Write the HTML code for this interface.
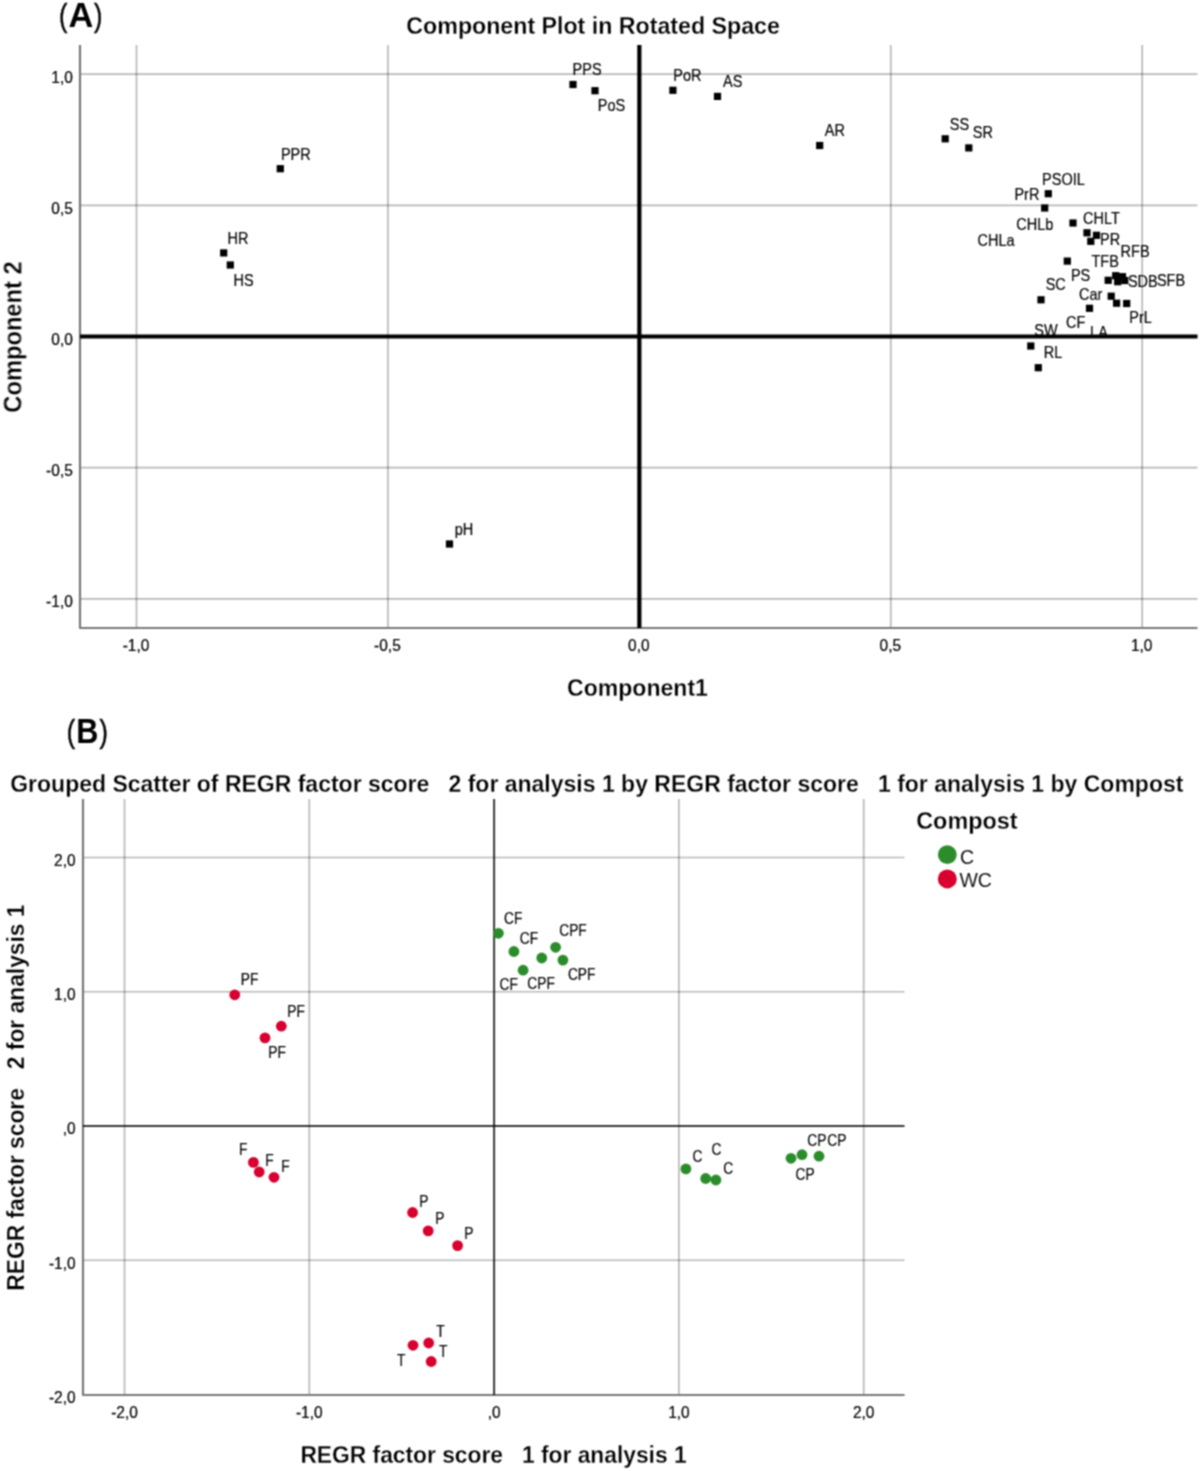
<!DOCTYPE html>
<html><head><meta charset="utf-8"><title>Component Plot</title>
<style>
html,body{margin:0;padding:0;background:#fff;}
body{width:1200px;height:1471px;overflow:hidden;}
svg{display:block;font-family:"Liberation Sans", sans-serif;}
</style></head>
<body>
<svg width="1200" height="1471" viewBox="0 0 1200 1471">
<defs><filter id="bl" x="0" y="0" width="1" height="1" color-interpolation-filters="sRGB"><feConvolveMatrix order="3" kernelMatrix="1 2 1 2 4 2 1 2 1" divisor="16" edgeMode="duplicate"/></filter></defs>
<g filter="url(#bl)">
<rect width="1200" height="1471" fill="#fff"/>
<line x1="136.50" y1="45.00" x2="136.50" y2="628.00" stroke="#000" stroke-width="1.7" stroke-opacity="0.28"/>
<line x1="387.93" y1="45.00" x2="387.93" y2="628.00" stroke="#000" stroke-width="1.7" stroke-opacity="0.28"/>
<line x1="890.78" y1="45.00" x2="890.78" y2="628.00" stroke="#000" stroke-width="1.7" stroke-opacity="0.28"/>
<line x1="1142.20" y1="45.00" x2="1142.20" y2="628.00" stroke="#000" stroke-width="1.7" stroke-opacity="0.28"/>
<line x1="80.00" y1="74.20" x2="1197.50" y2="74.20" stroke="#000" stroke-width="1.7" stroke-opacity="0.28"/>
<line x1="80.00" y1="205.35" x2="1197.50" y2="205.35" stroke="#000" stroke-width="1.7" stroke-opacity="0.28"/>
<line x1="80.00" y1="467.65" x2="1197.50" y2="467.65" stroke="#000" stroke-width="1.7" stroke-opacity="0.28"/>
<line x1="80.00" y1="598.80" x2="1197.50" y2="598.80" stroke="#000" stroke-width="1.7" stroke-opacity="0.28"/>
<path d="M80,45 L80,628 L1197.5,628" fill="none" stroke="#787878" stroke-width="2.2" stroke-linejoin="round"/>
<line x1="639.35" y1="45.00" x2="639.35" y2="628.00" stroke="#000" stroke-width="4.2"/>
<line x1="80.00" y1="336.50" x2="1197.50" y2="336.50" stroke="#000" stroke-width="4.2"/>
<text transform="translate(72.80,82.60) scale(1.0,1.1)" font-size="15.5" text-anchor="end" fill="#000" stroke="#000" stroke-width="0.2">1,0</text>
<text transform="translate(72.80,213.75) scale(1.0,1.1)" font-size="15.5" text-anchor="end" fill="#000" stroke="#000" stroke-width="0.2">0,5</text>
<text transform="translate(72.80,344.90) scale(1.0,1.1)" font-size="15.5" text-anchor="end" fill="#000" stroke="#000" stroke-width="0.2">0,0</text>
<text transform="translate(72.80,476.05) scale(1.0,1.1)" font-size="15.5" text-anchor="end" fill="#000" stroke="#000" stroke-width="0.2">-0,5</text>
<text transform="translate(72.80,607.20) scale(1.0,1.1)" font-size="15.5" text-anchor="end" fill="#000" stroke="#000" stroke-width="0.2">-1,0</text>
<text transform="translate(136.00,651.00) scale(1.0,1.1)" font-size="15.5" text-anchor="middle" fill="#000" stroke="#000" stroke-width="0.2">-1,0</text>
<text transform="translate(387.43,651.00) scale(1.0,1.1)" font-size="15.5" text-anchor="middle" fill="#000" stroke="#000" stroke-width="0.2">-0,5</text>
<text transform="translate(638.85,651.00) scale(1.0,1.1)" font-size="15.5" text-anchor="middle" fill="#000" stroke="#000" stroke-width="0.2">0,0</text>
<text transform="translate(890.28,651.00) scale(1.0,1.1)" font-size="15.5" text-anchor="middle" fill="#000" stroke="#000" stroke-width="0.2">0,5</text>
<text transform="translate(1141.70,651.00) scale(1.0,1.1)" font-size="15.5" text-anchor="middle" fill="#000" stroke="#000" stroke-width="0.2">1,0</text>
<rect x="569.4" y="80.9" width="7.2" height="7.2" fill="#000"/>
<rect x="591.4" y="87.1" width="7.2" height="7.2" fill="#000"/>
<rect x="669.3" y="86.7" width="7.2" height="7.2" fill="#000"/>
<rect x="713.9" y="92.8" width="7.2" height="7.2" fill="#000"/>
<rect x="816.1" y="141.9" width="7.2" height="7.2" fill="#000"/>
<rect x="941.6" y="135.2" width="7.2" height="7.2" fill="#000"/>
<rect x="965.2" y="144.3" width="7.2" height="7.2" fill="#000"/>
<rect x="276.7" y="165.1" width="7.2" height="7.2" fill="#000"/>
<rect x="220.1" y="249.3" width="7.2" height="7.2" fill="#000"/>
<rect x="226.7" y="261.4" width="7.2" height="7.2" fill="#000"/>
<rect x="445.9" y="540.4" width="7.2" height="7.2" fill="#000"/>
<rect x="1044.7" y="190.1" width="7.2" height="7.2" fill="#000"/>
<rect x="1041.1" y="204.4" width="7.2" height="7.2" fill="#000"/>
<rect x="1069.4" y="219.4" width="7.2" height="7.2" fill="#000"/>
<rect x="1083.4" y="229.2" width="7.2" height="7.2" fill="#000"/>
<rect x="1092.9" y="231.7" width="7.2" height="7.2" fill="#000"/>
<rect x="1087.2" y="237.7" width="7.2" height="7.2" fill="#000"/>
<rect x="1063.7" y="257.5" width="7.2" height="7.2" fill="#000"/>
<rect x="1037.4" y="296.2" width="7.2" height="7.2" fill="#000"/>
<rect x="1085.9" y="304.7" width="7.2" height="7.2" fill="#000"/>
<rect x="1104.6" y="276.7" width="7.2" height="7.2" fill="#000"/>
<rect x="1112.1" y="272.1" width="7.2" height="7.2" fill="#000"/>
<rect x="1118.9" y="273.1" width="7.2" height="7.2" fill="#000"/>
<rect x="1114.1" y="278.1" width="7.2" height="7.2" fill="#000"/>
<rect x="1121.2" y="276.9" width="7.2" height="7.2" fill="#000"/>
<rect x="1107.6" y="292.6" width="7.2" height="7.2" fill="#000"/>
<rect x="1113.0" y="299.6" width="7.2" height="7.2" fill="#000"/>
<rect x="1123.1" y="299.9" width="7.2" height="7.2" fill="#000"/>
<rect x="1027.2" y="342.4" width="7.2" height="7.2" fill="#000"/>
<rect x="1034.7" y="364.1" width="7.2" height="7.2" fill="#000"/>
<text transform="translate(572.61,75.25) scale(1.0,1.1)" font-size="14.5" fill="#000" stroke="#000" stroke-width="0.15">PPS</text>
<text transform="translate(597.81,111.00) scale(1.0,1.1)" font-size="14.5" fill="#000" stroke="#000" stroke-width="0.15">PoS</text>
<text transform="translate(673.31,80.75) scale(1.0,1.1)" font-size="14.5" fill="#000" stroke="#000" stroke-width="0.15">PoR</text>
<text transform="translate(723.07,86.80) scale(1.0,1.1)" font-size="14.5" fill="#000" stroke="#000" stroke-width="0.15">AS</text>
<text transform="translate(824.77,136.40) scale(1.0,1.1)" font-size="14.5" fill="#000" stroke="#000" stroke-width="0.15">AR</text>
<text transform="translate(949.84,129.70) scale(1.0,1.1)" font-size="14.5" fill="#000" stroke="#000" stroke-width="0.15">SS</text>
<text transform="translate(972.84,138.30) scale(1.0,1.1)" font-size="14.5" fill="#000" stroke="#000" stroke-width="0.15">SR</text>
<text transform="translate(280.91,160.00) scale(1.0,1.1)" font-size="14.5" fill="#000" stroke="#000" stroke-width="0.15">PPR</text>
<text transform="translate(227.41,243.80) scale(1.0,1.1)" font-size="14.5" fill="#000" stroke="#000" stroke-width="0.15">HR</text>
<text transform="translate(233.41,286.20) scale(1.0,1.1)" font-size="14.5" fill="#000" stroke="#000" stroke-width="0.15">HS</text>
<text transform="translate(454.67,535.20) scale(1.0,1.1)" font-size="14.5" fill="#000" stroke="#000" stroke-width="0.15">pH</text>
<text transform="translate(1042.11,184.50) scale(1.0,1.1)" font-size="14.5" fill="#000" stroke="#000" stroke-width="0.15">PSOIL</text>
<text transform="translate(1014.41,200.20) scale(1.0,1.1)" font-size="14.5" fill="#000" stroke="#000" stroke-width="0.15">PrR</text>
<text transform="translate(1016.26,229.50) scale(1.0,1.1)" font-size="14.5" fill="#000" stroke="#000" stroke-width="0.15">CHLb</text>
<text transform="translate(1083.06,223.50) scale(1.0,1.1)" font-size="14.5" fill="#000" stroke="#000" stroke-width="0.15">CHLT</text>
<text transform="translate(977.56,246.00) scale(1.0,1.1)" font-size="14.5" fill="#000" stroke="#000" stroke-width="0.15">CHLa</text>
<text transform="translate(1100.11,245.00) scale(1.0,1.1)" font-size="14.5" fill="#000" stroke="#000" stroke-width="0.15">PR</text>
<text transform="translate(1120.61,256.50) scale(1.0,1.1)" font-size="14.5" fill="#000" stroke="#000" stroke-width="0.15">RFB</text>
<text transform="translate(1091.47,266.80) scale(1.0,1.1)" font-size="14.5" fill="#000" stroke="#000" stroke-width="0.15">TFB</text>
<text transform="translate(1070.91,281.30) scale(1.0,1.1)" font-size="14.5" fill="#000" stroke="#000" stroke-width="0.15">PS</text>
<text transform="translate(1045.64,290.00) scale(1.0,1.1)" font-size="14.5" fill="#000" stroke="#000" stroke-width="0.15">SC</text>
<text transform="translate(1079.06,300.20) scale(1.0,1.1)" font-size="14.5" fill="#000" stroke="#000" stroke-width="0.15">Car</text>
<text transform="translate(1127.94,287.20) scale(1.0,1.1)" font-size="14.5" fill="#000" stroke="#000" stroke-width="0.15">SDB</text>
<text transform="translate(1156.89,286.00) scale(1.0,1.1)" font-size="14.5" fill="#000" stroke="#000" stroke-width="0.15">SFB</text>
<text transform="translate(1129.36,323.00) scale(1.0,1.1)" font-size="14.5" fill="#000" stroke="#000" stroke-width="0.15">PrL</text>
<text transform="translate(1065.96,327.80) scale(1.0,1.1)" font-size="14.5" fill="#000" stroke="#000" stroke-width="0.15">CF</text>
<text transform="translate(1034.24,336.30) scale(1.0,1.1)" font-size="14.5" fill="#000" stroke="#000" stroke-width="0.15">SW</text>
<text transform="translate(1090.11,337.70) scale(1.0,1.1)" font-size="14.5" fill="#000" stroke="#000" stroke-width="0.15">LA</text>
<text transform="translate(1043.71,358.40) scale(1.0,1.1)" font-size="14.5" fill="#000" stroke="#000" stroke-width="0.15">RL</text>
<text transform="translate(593.10,33.60) scale(1.0,1.05)" font-size="23.2" font-weight="bold" text-anchor="middle" fill="#000" stroke="#fff" stroke-width="0.25">Component Plot in Rotated Space</text>
<text transform="translate(637.50,695.90) scale(1.0,1.05)" font-size="23.05" font-weight="bold" text-anchor="middle" fill="#000" stroke="#fff" stroke-width="0.25">Component1</text>
<text transform="translate(21.60,337.00) rotate(-90) scale(1.0,1.05)" font-size="23.7" font-weight="bold" text-anchor="middle" fill="#000" stroke="#fff" stroke-width="0.25">Component 2</text>
<line x1="124.50" y1="799.00" x2="124.50" y2="1395.00" stroke="#000" stroke-width="1.7" stroke-opacity="0.28"/>
<line x1="309.30" y1="799.00" x2="309.30" y2="1395.00" stroke="#000" stroke-width="1.7" stroke-opacity="0.28"/>
<line x1="678.90" y1="799.00" x2="678.90" y2="1395.00" stroke="#000" stroke-width="1.7" stroke-opacity="0.28"/>
<line x1="863.70" y1="799.00" x2="863.70" y2="1395.00" stroke="#000" stroke-width="1.7" stroke-opacity="0.28"/>
<line x1="83.00" y1="857.50" x2="904.50" y2="857.50" stroke="#000" stroke-width="1.7" stroke-opacity="0.28"/>
<line x1="83.00" y1="991.75" x2="904.50" y2="991.75" stroke="#000" stroke-width="1.7" stroke-opacity="0.28"/>
<line x1="83.00" y1="1260.25" x2="904.50" y2="1260.25" stroke="#000" stroke-width="1.7" stroke-opacity="0.28"/>
<path d="M83,799 L83,1395 L904.5,1395" fill="none" stroke="#787878" stroke-width="2.2" stroke-linejoin="round"/>
<line x1="494.10" y1="799.00" x2="494.10" y2="1395.00" stroke="#000" stroke-width="2" stroke-opacity="0.78"/>
<line x1="83.00" y1="1126.00" x2="904.50" y2="1126.00" stroke="#000" stroke-width="2" stroke-opacity="0.78"/>
<text transform="translate(75.60,865.90) scale(1.0,1.1)" font-size="15.5" text-anchor="end" fill="#000" stroke="#000" stroke-width="0.2">2,0</text>
<text transform="translate(75.60,1000.15) scale(1.0,1.1)" font-size="15.5" text-anchor="end" fill="#000" stroke="#000" stroke-width="0.2">1,0</text>
<text transform="translate(75.60,1134.40) scale(1.0,1.1)" font-size="15.5" text-anchor="end" fill="#000" stroke="#000" stroke-width="0.2">,0</text>
<text transform="translate(75.60,1268.65) scale(1.0,1.1)" font-size="15.5" text-anchor="end" fill="#000" stroke="#000" stroke-width="0.2">-1,0</text>
<text transform="translate(75.60,1402.90) scale(1.0,1.1)" font-size="15.5" text-anchor="end" fill="#000" stroke="#000" stroke-width="0.2">-2,0</text>
<text transform="translate(124.50,1418.00) scale(1.0,1.1)" font-size="15.5" text-anchor="middle" fill="#000" stroke="#000" stroke-width="0.2">-2,0</text>
<text transform="translate(309.30,1418.00) scale(1.0,1.1)" font-size="15.5" text-anchor="middle" fill="#000" stroke="#000" stroke-width="0.2">-1,0</text>
<text transform="translate(494.10,1418.00) scale(1.0,1.1)" font-size="15.5" text-anchor="middle" fill="#000" stroke="#000" stroke-width="0.2">,0</text>
<text transform="translate(678.90,1418.00) scale(1.0,1.1)" font-size="15.5" text-anchor="middle" fill="#000" stroke="#000" stroke-width="0.2">1,0</text>
<text transform="translate(863.70,1418.00) scale(1.0,1.1)" font-size="15.5" text-anchor="middle" fill="#000" stroke="#000" stroke-width="0.2">2,0</text>
<circle cx="498.4" cy="933.3" r="5.4" fill="#2b8c2b"/>
<circle cx="513.9" cy="951.5" r="5.4" fill="#2b8c2b"/>
<circle cx="555.6" cy="947.3" r="5.4" fill="#2b8c2b"/>
<circle cx="541.75" cy="958" r="5.4" fill="#2b8c2b"/>
<circle cx="562.9" cy="960.1" r="5.4" fill="#2b8c2b"/>
<circle cx="523.1" cy="970.2" r="5.4" fill="#2b8c2b"/>
<circle cx="685.9" cy="1168.9" r="5.4" fill="#2b8c2b"/>
<circle cx="705.7" cy="1178.5" r="5.4" fill="#2b8c2b"/>
<circle cx="715.9" cy="1180" r="5.4" fill="#2b8c2b"/>
<circle cx="791" cy="1158.3" r="5.4" fill="#2b8c2b"/>
<circle cx="802" cy="1154.7" r="5.4" fill="#2b8c2b"/>
<circle cx="819" cy="1156.2" r="5.4" fill="#2b8c2b"/>
<circle cx="234.75" cy="994.8" r="5.4" fill="#d7002f"/>
<circle cx="281.3" cy="1026.2" r="5.4" fill="#d7002f"/>
<circle cx="265" cy="1037.9" r="5.4" fill="#d7002f"/>
<circle cx="253.4" cy="1162.4" r="5.4" fill="#d7002f"/>
<circle cx="259.2" cy="1172" r="5.4" fill="#d7002f"/>
<circle cx="274" cy="1177.3" r="5.4" fill="#d7002f"/>
<circle cx="412.6" cy="1212.5" r="5.4" fill="#d7002f"/>
<circle cx="428.2" cy="1230.9" r="5.4" fill="#d7002f"/>
<circle cx="457.6" cy="1245.6" r="5.4" fill="#d7002f"/>
<circle cx="413" cy="1345.3" r="5.4" fill="#d7002f"/>
<circle cx="428.7" cy="1343" r="5.4" fill="#d7002f"/>
<circle cx="431.2" cy="1361.5" r="5.4" fill="#d7002f"/>
<text transform="translate(504.00,923.90) scale(1.0,1.22)" font-size="13.8" fill="#000" stroke="#000" stroke-width="0.15">CF</text>
<text transform="translate(519.70,943.90) scale(1.0,1.22)" font-size="13.8" fill="#000" stroke="#000" stroke-width="0.15">CF</text>
<text transform="translate(559.20,936.35) scale(1.0,1.22)" font-size="13.8" fill="#000" stroke="#000" stroke-width="0.15">CPF</text>
<text transform="translate(567.90,980.10) scale(1.0,1.22)" font-size="13.8" fill="#000" stroke="#000" stroke-width="0.15">CPF</text>
<text transform="translate(499.60,989.90) scale(1.0,1.22)" font-size="13.8" fill="#000" stroke="#000" stroke-width="0.15">CF</text>
<text transform="translate(527.30,989.00) scale(1.0,1.22)" font-size="13.8" fill="#000" stroke="#000" stroke-width="0.15">CPF</text>
<text transform="translate(240.77,984.60) scale(1.0,1.22)" font-size="13.8" fill="#000" stroke="#000" stroke-width="0.15">PF</text>
<text transform="translate(287.27,1016.50) scale(1.0,1.22)" font-size="13.8" fill="#000" stroke="#000" stroke-width="0.15">PF</text>
<text transform="translate(268.27,1058.20) scale(1.0,1.22)" font-size="13.8" fill="#000" stroke="#000" stroke-width="0.15">PF</text>
<text transform="translate(239.07,1154.50) scale(1.0,1.22)" font-size="13.8" fill="#000" stroke="#000" stroke-width="0.15">F</text>
<text transform="translate(265.27,1166.00) scale(1.0,1.22)" font-size="13.8" fill="#000" stroke="#000" stroke-width="0.15">F</text>
<text transform="translate(281.27,1171.90) scale(1.0,1.22)" font-size="13.8" fill="#000" stroke="#000" stroke-width="0.15">F</text>
<text transform="translate(419.17,1206.60) scale(1.0,1.22)" font-size="13.8" fill="#000" stroke="#000" stroke-width="0.15">P</text>
<text transform="translate(435.27,1224.20) scale(1.0,1.22)" font-size="13.8" fill="#000" stroke="#000" stroke-width="0.15">P</text>
<text transform="translate(464.27,1238.90) scale(1.0,1.22)" font-size="13.8" fill="#000" stroke="#000" stroke-width="0.15">P</text>
<text transform="translate(436.29,1336.90) scale(1.0,1.22)" font-size="13.8" fill="#000" stroke="#000" stroke-width="0.15">T</text>
<text transform="translate(439.09,1357.30) scale(1.0,1.22)" font-size="13.8" fill="#000" stroke="#000" stroke-width="0.15">T</text>
<text transform="translate(396.99,1365.90) scale(1.0,1.22)" font-size="13.8" fill="#000" stroke="#000" stroke-width="0.15">T</text>
<text transform="translate(692.60,1161.90) scale(1.0,1.22)" font-size="13.8" fill="#000" stroke="#000" stroke-width="0.15">C</text>
<text transform="translate(711.50,1154.90) scale(1.0,1.22)" font-size="13.8" fill="#000" stroke="#000" stroke-width="0.15">C</text>
<text transform="translate(723.30,1173.60) scale(1.0,1.22)" font-size="13.8" fill="#000" stroke="#000" stroke-width="0.15">C</text>
<text transform="translate(807.30,1145.90) scale(1.0,1.22)" font-size="13.8" fill="#000" stroke="#000" stroke-width="0.15">CP</text>
<text transform="translate(827.30,1145.90) scale(1.0,1.22)" font-size="13.8" fill="#000" stroke="#000" stroke-width="0.15">CP</text>
<text transform="translate(795.60,1179.60) scale(1.0,1.22)" font-size="13.8" fill="#000" stroke="#000" stroke-width="0.15">CP</text>
<text transform="translate(596.80,791.60) scale(1.0,1.05)" font-size="23.0" font-weight="bold" text-anchor="middle" xml:space="preserve" fill="#000" stroke="#fff" stroke-width="0.25">Grouped Scatter of REGR factor score   2 for analysis 1 by REGR factor score   1 for analysis 1 by Compost</text>
<text transform="translate(493.50,1463.00) scale(1.0,1.05)" font-size="22.8" font-weight="bold" text-anchor="middle" xml:space="preserve" fill="#000" stroke="#fff" stroke-width="0.25">REGR factor score   1 for analysis 1</text>
<text transform="translate(24.20,1097.60) rotate(-90) scale(1.0,1.05)" font-size="22.8" font-weight="bold" text-anchor="middle" xml:space="preserve" fill="#000" stroke="#fff" stroke-width="0.25">REGR factor score   2 for analysis 1</text>
<text transform="translate(916.20,828.70) scale(1.0,1.05)" font-size="23.4" font-weight="bold" fill="#000" stroke="#fff" stroke-width="0.25">Compost</text>
<circle cx="947.3" cy="854.7" r="9.4" fill="#2b8c2b"/>
<circle cx="947.3" cy="878.9" r="9.5" fill="#d7002f"/>
<text transform="translate(960.00,863.70) scale(1.0,1.03)" font-size="19.5" fill="#111">C</text>
<text transform="translate(959.40,887.00) scale(1.0,1.03)" font-size="19.5" fill="#111">WC</text>
<text transform="translate(58.9,26.4) scale(0.8,1)" font-size="31.4" stroke="#000" stroke-width="0.45">(</text>
<text transform="translate(68.4,27.0) scale(0.97,1)" font-size="35.5" font-weight="bold">A</text>
<text transform="translate(94.0,26.4) scale(0.8,1)" font-size="31.4" stroke="#000" stroke-width="0.45">)</text>
<text transform="translate(66.8,742.1999999999999) scale(0.8,1)" font-size="31.4" stroke="#000" stroke-width="0.45">(</text>
<text transform="translate(76.30000000000001,742.8) scale(0.862,1)" font-size="35.5" font-weight="bold">B</text>
<text transform="translate(99.60000000000001,742.1999999999999) scale(0.8,1)" font-size="31.4" stroke="#000" stroke-width="0.45">)</text>
</g>
</svg>
</body></html>
